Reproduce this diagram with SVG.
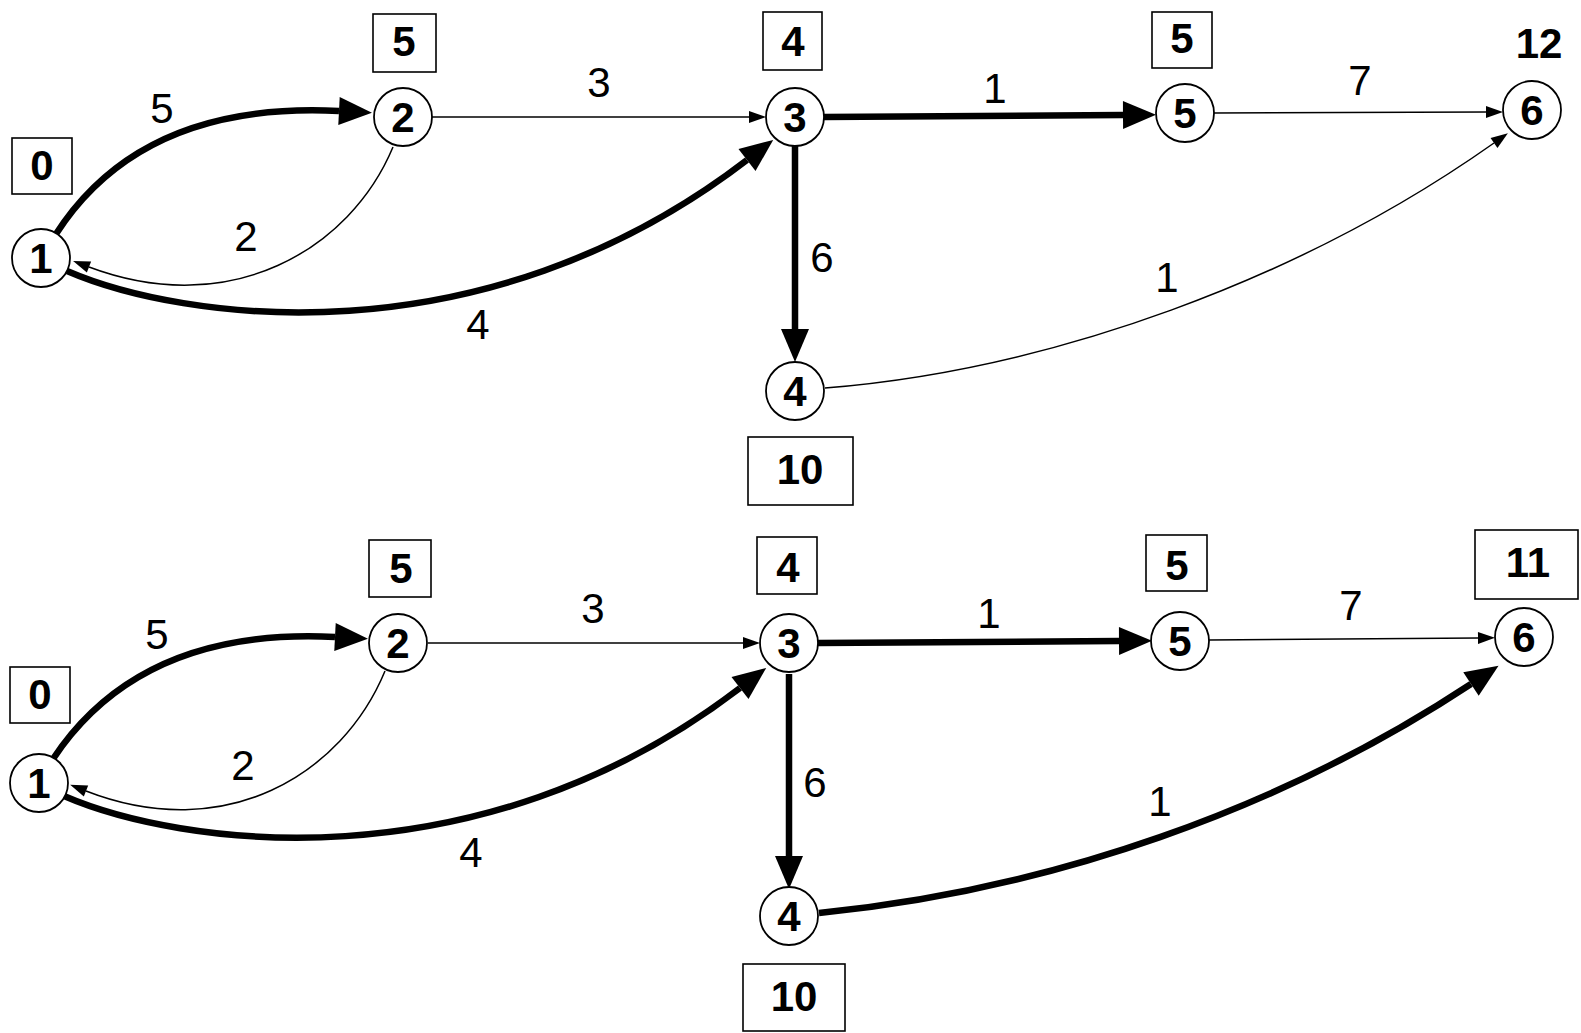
<svg xmlns="http://www.w3.org/2000/svg" width="1581" height="1033" viewBox="0 0 1581 1033">
<defs>
<style>
.node circle{fill:#fff;stroke:#000;stroke-width:1.8}
.node text{font-family:"Liberation Sans",Arial,sans-serif;font-weight:bold;font-size:42px;text-anchor:middle}
.box rect{fill:#fff;stroke:#000;stroke-width:1.6}
.box text,.bare{font-family:"Liberation Sans",Arial,sans-serif;font-weight:bold;font-size:42px;text-anchor:middle}
.thin{fill:none;stroke:#000;stroke-width:1.5;marker-end:url(#sa)}
.thick{fill:none;stroke:#000;stroke-width:6.5;marker-end:url(#la)}
.lbl{font-family:"Liberation Sans",Arial,sans-serif;font-size:42px;text-anchor:middle}
</style>
<marker id="la" markerUnits="userSpaceOnUse" markerWidth="36" markerHeight="30" refX="0" refY="14" orient="auto" overflow="visible">
<path d="M0,0 L33,14 L0,28 z" fill="#000"/>
</marker>
<marker id="sa" markerUnits="userSpaceOnUse" markerWidth="18" markerHeight="14" refX="0" refY="6" orient="auto" overflow="visible">
<path d="M0,0 L17,6 L0,12 z" fill="#000"/>
</marker>
</defs>
<rect width="1581" height="1033" fill="#fff"/>

<g id="connectors">
<!-- top -->
<path class="thick" d="M56,234 C110,150 200,104 339,111"/>
<path class="thin" d="M393,147 C350,250 230,320 89,267"/>
<path class="thick" d="M67,271 C180,320 480,365 747,160"/>
<path class="thin" d="M432,117 L749,117"/>
<path class="thick" d="M824,117 L1123,115"/>
<path class="thin" d="M1214,113 L1486,112"/>
<path class="thick" d="M795,146 L795,329"/>
<path class="thin" d="M825,388 C1050,370 1300,280 1494,143"/>
<!-- bottom -->
<path class="thick" d="M53,759 C108,676 198,630 335,637"/>
<path class="thin" d="M385,671 C342,775 225,845 86,791"/>
<path class="thick" d="M64,796 C177,845 476,890 740,688"/>
<path class="thin" d="M428,643 L743,643"/>
<path class="thick" d="M818,643 L1119,641"/>
<path class="thin" d="M1209,640 L1478,638"/>
<path class="thick" d="M789,674 L789,856"/>
<path class="thick" d="M819,913 C1050,890 1280,810 1471,684"/>
</g>

<g id="edge-labels">
<text class="lbl" x="162" y="123">5</text>
<text class="lbl" x="246" y="251">2</text>
<text class="lbl" x="478" y="339">4</text>
<text class="lbl" x="599" y="97">3</text>
<text class="lbl" x="995" y="103">1</text>
<text class="lbl" x="1360" y="95">7</text>
<text class="lbl" x="822" y="272">6</text>
<text class="lbl" x="1167" y="292">1</text>

<text class="lbl" x="157" y="649">5</text>
<text class="lbl" x="243" y="780">2</text>
<text class="lbl" x="471" y="867">4</text>
<text class="lbl" x="593" y="623">3</text>
<text class="lbl" x="989" y="628">1</text>
<text class="lbl" x="1351" y="620">7</text>
<text class="lbl" x="815" y="797">6</text>
<text class="lbl" x="1160" y="816">1</text>
</g>

<g id="top-n1" class="node"><circle cx="41" cy="258" r="29"/><text x="41" y="273">1</text></g>
<g id="top-n2" class="node"><circle cx="403" cy="117" r="29"/><text x="403" y="132">2</text></g>
<g id="top-n3" class="node"><circle cx="795" cy="117" r="29"/><text x="795" y="132">3</text></g>
<g id="top-n5" class="node"><circle cx="1185" cy="113" r="29"/><text x="1185" y="128">5</text></g>
<g id="top-n6" class="node"><circle cx="1532" cy="110" r="29"/><text x="1532" y="125">6</text></g>
<g id="top-n4" class="node"><circle cx="795" cy="391" r="29"/><text x="795" y="406">4</text></g>

<g id="top-b1" class="box"><rect x="12" y="138" width="60" height="56"/><text x="42" y="180">0</text></g>
<g id="top-b2" class="box"><rect x="373" y="14" width="63" height="58"/><text x="404" y="56">5</text></g>
<g id="top-b3" class="box"><rect x="763" y="12" width="59" height="58"/><text x="793" y="56">4</text></g>
<g id="top-b5" class="box"><rect x="1152" y="12" width="60" height="56"/><text x="1182" y="53">5</text></g>
<g id="top-b6"><text class="bare" x="1539" y="58">12</text></g>
<g id="top-b4" class="box"><rect x="748" y="437" width="105" height="68"/><text x="800" y="484">10</text></g>

<g id="bot-n1" class="node"><circle cx="39" cy="783" r="29"/><text x="39" y="798">1</text></g>
<g id="bot-n2" class="node"><circle cx="398" cy="643" r="29"/><text x="398" y="658">2</text></g>
<g id="bot-n3" class="node"><circle cx="789" cy="643" r="29"/><text x="789" y="658">3</text></g>
<g id="bot-n5" class="node"><circle cx="1180" cy="641" r="29"/><text x="1180" y="656">5</text></g>
<g id="bot-n6" class="node"><circle cx="1524" cy="637" r="29"/><text x="1524" y="652">6</text></g>
<g id="bot-n4" class="node"><circle cx="789" cy="916" r="29"/><text x="789" y="931">4</text></g>

<g id="bot-b1" class="box"><rect x="10" y="667" width="60" height="56"/><text x="40" y="709">0</text></g>
<g id="bot-b2" class="box"><rect x="369" y="540" width="62" height="57"/><text x="401" y="583">5</text></g>
<g id="bot-b3" class="box"><rect x="757" y="537" width="60" height="57"/><text x="788" y="582">4</text></g>
<g id="bot-b5" class="box"><rect x="1146" y="535" width="61" height="56"/><text x="1177" y="580">5</text></g>
<g id="bot-b6" class="box"><rect x="1475" y="530" width="103" height="69"/><text x="1528" y="577">11</text></g>
<g id="bot-b4" class="box"><rect x="743" y="964" width="102" height="67"/><text x="794" y="1011">10</text></g>
</svg>
